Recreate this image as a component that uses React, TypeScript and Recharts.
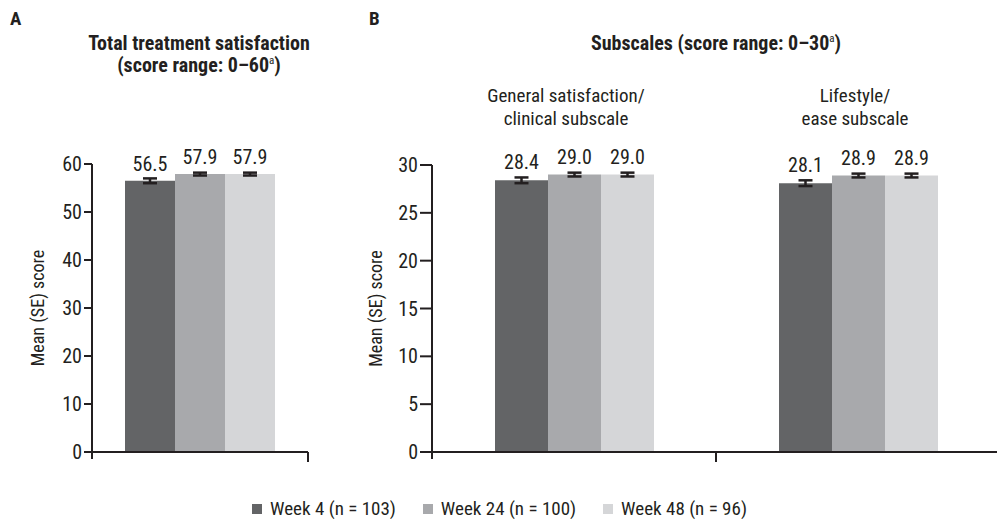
import { Bar, BarChart, ErrorBar, LabelList, XAxis, YAxis } from "recharts";

const seriesNames = ["Week 4 (n = 103)", "Week 24 (n = 100)", "Week 48 (n = 96)"];
const seriesColors = ["#636466", "#a8a9ac", "#d5d6d8"];

// panel A: total score
const totalCategories = ["Total treatment satisfaction"];
const totalWeek4 = [56.5];
const totalWeek24 = [57.9];
const totalWeek48 = [57.9];
const totalWeek4SE = [0.5];
const totalWeek24SE = [0.3];
const totalWeek48SE = [0.3];
const totalTicks = [0, 10, 20, 30, 40, 50, 60];

// panel B: subscales
const subCategories = ["General satisfaction/clinical subscale", "Lifestyle/ease subscale"];
const subWeek4 = [28.4, 28.1];
const subWeek24 = [29.0, 28.9];
const subWeek48 = [29.0, 28.9];
const subWeek4SE = [0.3, 0.3];
const subWeek24SE = [0.2, 0.2];
const subWeek48SE = [0.2, 0.2];
const subTicks = [0, 5, 10, 15, 20, 25, 30];

const totalData = totalCategories.map((name, i) => ({
  name,
  w4: totalWeek4[i],
  w24: totalWeek24[i],
  w48: totalWeek48[i],
  w4se: totalWeek4SE[i],
  w24se: totalWeek24SE[i],
  w48se: totalWeek48SE[i],
}));

const subData = subCategories.map((name, i) => ({
  name,
  w4: subWeek4[i],
  w24: subWeek24[i],
  w48: subWeek48[i],
  w4se: subWeek4SE[i],
  w24se: subWeek24SE[i],
  w48se: subWeek48SE[i],
}));

const FONT = "'Liberation Sans Narrow', 'Arial Narrow', 'Roboto Condensed', sans-serif";
const INK = "#231f20";
const keys = ["w4", "w24", "w48"];
const NUM_SIZE = 20;

// ticks sit on the category boundaries, not the centres
const makeBoundaryTick = (bandwidth: number) => (props: any) => {
  const { x, y, index } = props;
  return (
    <g>
      {index === 0 ? (
        <line x1={x - bandwidth / 2} x2={x - bandwidth / 2} y1={y} y2={y + 7} stroke={INK} strokeWidth={2} />
      ) : null}
      <line x1={x + bandwidth / 2} x2={x + bandwidth / 2} y1={y} y2={y + 10} stroke={INK} strokeWidth={2} />
    </g>
  );
};

type PanelProps = {
  data: any[];
  width: number;
  left: number;
  top: number;
  plotWidth: number;
  max: number;
  ticks: number[];
  gap: number;
  tickSize: number;
  labelOffset: number;
  titleOffset: number;
};

function Panel({ data, width, left, top, plotWidth, max, ticks, gap, tickSize, labelOffset, titleOffset }: PanelProps) {
  const yAxisWidth = 60;
  const marginLeft = 32;
  return (
    <div style={{ position: "absolute", left, top: 0 }}>
      <BarChart
        width={width}
        height={470}
        data={data}
        margin={{ top, left: marginLeft, right: width - marginLeft - yAxisWidth - plotWidth, bottom: 8 }}
        barCategoryGap={gap}
        barGap={0}
      >
        <XAxis
          dataKey="name"
          height={10}
          axisLine={{ stroke: INK, strokeWidth: 2 }}
          tickLine={false}
          tickSize={0}
          tickMargin={0}
          tick={makeBoundaryTick(plotWidth / data.length)}
          interval={0}
        />
        <YAxis
          width={yAxisWidth}
          domain={[0, max]}
          ticks={ticks}
          interval={0}
          axisLine={{ stroke: INK, strokeWidth: 2 }}
          tickLine={{ stroke: INK, strokeWidth: 2 }}
          tickSize={tickSize}
          tick={{ fontSize: NUM_SIZE, fill: INK, fontFamily: FONT }}
          label={{
            value: "Mean (SE) score",
            angle: -90,
            position: "insideLeft",
            offset: titleOffset,
            style: { textAnchor: "middle", fontSize: 18, fill: INK, fontFamily: FONT },
          }}
        />
        {keys.map((k, i) => (
          <Bar key={k} dataKey={k} name={seriesNames[i]} fill={seriesColors[i]} isAnimationActive={false}>
            <ErrorBar dataKey={`${k}se`} width={7} stroke={INK} strokeWidth={2.5} direction="y" />
            <LabelList
              dataKey={k}
              position="top"
              offset={labelOffset}
              formatter={(v: any) => Number(v).toFixed(1)}
              style={{ fontSize: NUM_SIZE, fill: INK, fontFamily: FONT }}
            />
          </Bar>
        ))}
      </BarChart>
    </div>
  );
}

const textStyle = { position: "absolute" as const, fontFamily: FONT, color: INK, whiteSpace: "nowrap" as const };
const boldTitle = {
  ...textStyle,
  fontWeight: 700,
  fontSize: 20,
  textAlign: "center" as const,
  transform: "translateX(-50%)",
  lineHeight: "22px",
};
const subTitle = {
  ...textStyle,
  fontSize: 19,
  textAlign: "center" as const,
  transform: "translateX(-50%)",
  lineHeight: "23px",
};
const sup = { fontSize: 11, verticalAlign: "super", lineHeight: 0, fontWeight: 400 };

export default function App() {
  return (
    <div style={{ position: "absolute", left: 0, top: 0, width: 997, height: 519, overflow: "hidden", background: "#fff" }}>
      <div style={{ ...textStyle, left: 10, top: 7, fontWeight: 700, fontSize: 19 }}>A</div>
      <div style={{ ...textStyle, left: 369, top: 7, fontWeight: 700, fontSize: 19 }}>B</div>
      <div style={{ ...boldTitle, left: 199, top: 32 }}>
        Total treatment satisfaction
        <br />
        (score range: 0–60<span style={sup}>a</span>)
      </div>
      <div style={{ ...boldTitle, left: 716, top: 32 }}>
        Subscales (score range: 0–30<span style={sup}>a</span>)
      </div>
      <div style={{ ...subTitle, left: 566, top: 84 }}>
        General satisfaction/
        <br />
        clinical subscale
      </div>
      <div style={{ ...subTitle, left: 855, top: 84 }}>
        Lifestyle/
        <br />
        ease subscale
      </div>

      <Panel
        data={totalData}
        width={330}
        left={0}
        top={164}
        plotWidth={216}
        max={60}
        ticks={totalTicks}
        gap={33}
        tickSize={8}
        labelOffset={10}
        titleOffset={6}
      />
      <Panel
        data={subData}
        width={670}
        left={340}
        top={165}
        plotWidth={568}
        max={30}
        ticks={subTicks}
        gap={63}
        tickSize={12}
        labelOffset={11}
        titleOffset={4}
      />

      <div
        style={{
          ...textStyle,
          left: 252,
          top: 497,
          fontSize: 19,
          display: "flex",
          alignItems: "center",
          gap: 27,
        }}
      >
        {seriesNames.map((n, i) => (
          <div key={n} style={{ display: "flex", alignItems: "center", gap: 8 }}>
            <span style={{ width: 10, height: 10, background: seriesColors[i], display: "inline-block" }} />
            <span>{n}</span>
          </div>
        ))}
      </div>
    </div>
  );
}
